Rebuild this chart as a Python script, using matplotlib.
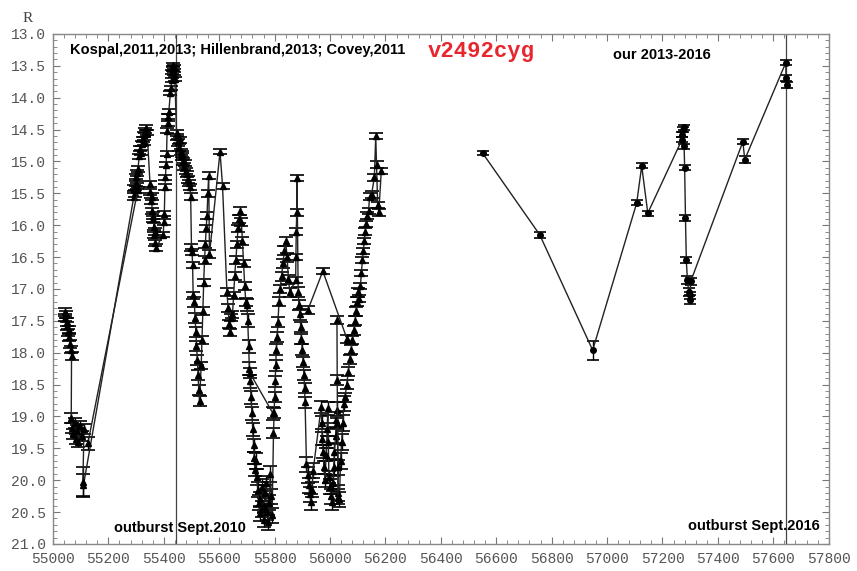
import matplotlib
matplotlib.use('Agg')
import matplotlib.pyplot as plt
from matplotlib.ticker import MultipleLocator, FormatStrFormatter

# --- Literature photometry (JD-2400000, R mag, error) ---
lit_a_x = [55043, 55045, 55047, 55049, 55052, 55054, 55057, 55059, 55062, 55064, 55067,
           55066, 55070, 55074, 55078, 55082, 55086, 55092, 55098, 55104, 55112,
           55108, 55110,
           55292, 55294, 55296, 55298, 55300, 55302, 55304, 55306,
           55312, 55315, 55318, 55321, 55324, 55327, 55330, 55333, 55336, 55340,
           55350, 55352, 55354, 55356, 55358, 55360, 55362, 55364, 55366, 55368, 55370, 55372,
           55398, 55400, 55402, 55404, 55406, 55408, 55410, 55412, 55414, 55416, 55418,
           55424, 55426, 55428, 55430, 55432, 55434, 55436, 55438, 55440,
           55446, 55449, 55452, 55455, 55458, 55461, 55464, 55467, 55470, 55473, 55476, 55479,
           55482, 55486, 55490,
           55494, 55497, 55500, 55502, 55504, 55506,
           55510, 55513, 55516, 55518, 55521, 55524, 55526, 55529,
           55535, 55538, 55541, 55544, 55547, 55550, 55553, 55556, 55559, 55562, 55565,
           55603, 55612,
           55628, 55632, 55636, 55638, 55641,
           55648, 55652, 55656, 55660, 55664, 55668, 55672, 55676, 55680, 55684, 55688, 55692, 55696,
           55700, 55703, 55706, 55709, 55712, 55715, 55718, 55721, 55724, 55727, 55729,
           55732, 55735, 55739, 55742, 55746, 55749, 55753, 55756, 55760, 55763, 55767, 55770,
           55774, 55777, 55781, 55784, 55788, 55791,
           55796, 55798, 55800, 55802, 55804, 55806, 55809, 55812,
           55816, 55820, 55825, 55830, 55835, 55840, 55845, 55850, 55855,
           55876, 55877, 55878, 55880, 55881,
           55885, 55888, 55891, 55894, 55897, 55900, 55903, 55906, 55908, 55910,
           55915, 55919, 55923, 55927, 55931, 55935, 55939,
           55968, 55970, 55972, 55975, 55978, 55982, 55986, 55990, 55992, 55994, 55996,
           56000, 56003, 56006, 56010, 56013, 56016, 56020, 56023, 56027, 56030, 56034, 56038,
           56042, 56046, 56050,
           56054, 56060, 56066, 56071, 56076, 56081, 56086, 56090, 56094, 56098, 56102,
           56106, 56110, 56113, 56117, 56120, 56124, 56127, 56131, 56135, 56139, 56143,
           56150, 56160, 56165, 56168, 56172, 56176, 56185]
lit_a_y = [17.36, 17.45, 17.40, 17.58, 17.52, 17.68, 17.75, 17.64, 17.86, 17.95, 18.05,
           19.02, 19.18, 19.28, 19.10, 19.35, 19.22, 19.40, 19.15, 19.30, 19.20,
           20.02, 20.08,
           15.55, 15.42, 15.50, 15.33, 15.25, 15.38, 15.18, 15.12,
           14.92, 14.80, 14.86, 14.72, 14.65, 14.70, 14.58, 14.52, 14.47, 14.55,
           15.35, 15.48, 15.62, 15.55, 15.78, 15.90, 15.85, 16.02, 16.15, 16.10, 16.28, 16.35,
           16.15, 15.95, 15.82, 15.40, 15.25, 15.05, 14.88, 14.52, 14.40, 14.30, 14.22,
           13.92, 13.85, 13.72, 13.60, 13.55, 13.48, 13.52, 13.62, 13.70,
           14.55, 14.62, 14.70, 14.78, 14.66, 14.85, 14.92, 14.88, 15.00, 15.08, 15.02, 15.15,
           15.20, 15.28, 15.34,
           15.40, 15.55, 16.35, 16.42, 16.62, 17.10,
           17.20, 17.45, 17.68, 17.90, 18.12, 18.35, 18.58, 18.76,
           18.20, 17.80, 17.35, 16.90, 16.55, 16.30, 16.05, 15.85, 15.50, 15.22, 16.45,
           14.85, 15.38,
           17.05, 17.30, 17.55, 17.68, 17.45,
           17.40, 17.10, 16.80, 16.55, 16.30, 16.05, 15.90, 15.78, 15.95, 16.25, 16.60, 16.95, 17.20,
           17.25, 17.50, 17.90, 18.25, 18.45, 18.70, 18.95, 19.20, 19.45, 19.65, 19.84,
           19.70, 19.95, 20.15, 20.35, 20.52, 20.30, 20.10, 20.45, 20.62, 20.40, 20.20, 20.05,
           20.50, 20.66, 20.35, 19.90, 20.25, 20.55,
           19.26, 18.95, 18.70, 18.45, 18.20, 17.95, 17.75, 17.52,
           17.20, 17.00, 16.80, 16.60, 16.40, 16.25, 16.50, 16.85, 17.05,
           16.86, 16.50, 16.10, 15.80, 15.26,
           17.05, 17.25, 17.40, 17.60, 17.78, 17.95, 18.15, 18.35, 18.55, 18.78,
           19.75, 19.92, 20.08, 20.22, 20.34, 20.15, 19.85,
           18.85, 19.10, 19.35, 19.55, 19.80, 20.00, 19.60, 19.20, 18.87, 19.40, 19.95,
           20.10, 20.25, 20.34, 20.05, 19.80, 19.55, 19.30, 19.05, 18.90, 20.20, 20.30, 19.70,
           19.40, 19.10, 18.80,
           18.70, 18.50, 18.30, 18.10, 17.95, 17.80, 17.65, 17.50, 17.35, 17.20, 17.05,
           17.15, 16.95, 16.75, 16.55, 16.40, 16.25, 16.10, 15.98, 15.85, 15.78, 15.55,
           15.52, 15.25, 14.60, 15.05, 15.68, 15.80, 15.15]
lit_a_err = [0.06, 0.06, 0.06, 0.06, 0.06, 0.06, 0.06, 0.06, 0.06, 0.06, 0.06,
             0.08, 0.08, 0.08, 0.08, 0.08, 0.08, 0.08, 0.08, 0.08, 0.08,
             0.22, 0.18,
             0.05, 0.05, 0.05, 0.05, 0.05, 0.05, 0.05, 0.05,
             0.04, 0.04, 0.04, 0.04, 0.04, 0.04, 0.04, 0.04, 0.04, 0.04,
             0.05, 0.05, 0.05, 0.05, 0.05, 0.05, 0.05, 0.05, 0.05, 0.05, 0.05, 0.05,
             0.04, 0.04, 0.04, 0.04, 0.04, 0.04, 0.04, 0.04, 0.04, 0.04, 0.04,
             0.03, 0.03, 0.03, 0.03, 0.03, 0.03, 0.03, 0.03, 0.03,
             0.05, 0.05, 0.05, 0.05, 0.05, 0.05, 0.05, 0.05, 0.05, 0.05, 0.05, 0.05,
             0.05, 0.05, 0.05,
             0.05, 0.05, 0.05, 0.05, 0.05, 0.05,
             0.08, 0.08, 0.08, 0.08, 0.08, 0.08, 0.08, 0.08,
             0.06, 0.06, 0.06, 0.06, 0.06, 0.06, 0.06, 0.06, 0.06, 0.06, 0.06,
             0.04, 0.05,
             0.06, 0.06, 0.06, 0.06, 0.06,
             0.06, 0.06, 0.06, 0.06, 0.06, 0.06, 0.06, 0.06, 0.06, 0.06, 0.06, 0.06, 0.06,
             0.10, 0.10, 0.10, 0.10, 0.10, 0.10, 0.10, 0.10, 0.10, 0.10, 0.10,
             0.12, 0.12, 0.12, 0.12, 0.12, 0.12, 0.12, 0.12, 0.12, 0.12, 0.12, 0.12,
             0.12, 0.12, 0.12, 0.12, 0.12, 0.12,
             0.08, 0.08, 0.08, 0.08, 0.08, 0.08, 0.08, 0.08,
             0.07, 0.07, 0.07, 0.07, 0.07, 0.07, 0.07, 0.07, 0.07,
             0.05, 0.05, 0.05, 0.05, 0.05,
             0.08, 0.08, 0.08, 0.08, 0.08, 0.08, 0.08, 0.08, 0.08, 0.08,
             0.12, 0.12, 0.12, 0.12, 0.12, 0.12, 0.12,
             0.10, 0.10, 0.10, 0.10, 0.10, 0.10, 0.10, 0.10, 0.10, 0.10, 0.10,
             0.12, 0.12, 0.12, 0.12, 0.12, 0.12, 0.12, 0.12, 0.12, 0.12, 0.12, 0.12,
             0.12, 0.12, 0.12,
             0.07, 0.07, 0.07, 0.07, 0.07, 0.07, 0.07, 0.07, 0.07, 0.07, 0.07,
             0.05, 0.05, 0.05, 0.05, 0.05, 0.05, 0.05, 0.05, 0.05, 0.05, 0.05,
             0.05, 0.05, 0.05, 0.05, 0.05, 0.05, 0.05]

# sparser data sets (long connecting segments)
lit_b_x = [55126, 55306]
lit_b_y = [19.42, 15.45]
lit_b_err = [0.10, 0.05]

lit_c_x = [55711, 55794]
lit_c_y = [18.32, 18.95]
lit_c_err = [0.08, 0.10]

lit_d_x = [55920, 55974, 56061]
lit_d_y = [17.33, 16.72, 17.78]
lit_d_err = [0.06, 0.05, 0.06]

lit_e_x = [56025, 56026, 56027, 56028, 56029]
lit_e_y = [17.49, 18.43, 19.10, 19.80, 20.26]
lit_e_err = [0.06, 0.08, 0.10, 0.12, 0.12]

# --- Our photometry 2013-2016 ---
our_x = [56551, 56757, 56948, 57107, 57125, 57147,
         57270, 57272, 57274, 57276, 57278, 57280, 57283, 57286, 57290, 57295, 57298, 57300, 57302,
         57490, 57497, 57645, 57646, 57648]
our_y = [14.87, 16.15, 17.96, 15.65, 15.07, 15.81,
         14.66, 14.58, 14.50, 14.46, 14.76, 15.10, 15.89, 16.55, 16.86, 17.05, 17.17, 17.10, 16.88,
         14.69, 14.97, 13.45, 13.69, 13.80]
our_err = [0.03, 0.05, 0.15, 0.04, 0.04, 0.04,
           0.04, 0.04, 0.04, 0.04, 0.04, 0.04, 0.05, 0.05, 0.06, 0.06, 0.07, 0.06, 0.06,
           0.04, 0.06, 0.04, 0.04, 0.04]

outburst_dates = [55444, 57645]

# --- Plot ---
fig = plt.figure(figsize=(8.57, 5.71), dpi=100)
ax = fig.add_axes([0.0618, 0.0473, 0.9052, 0.8932])

for xs, ys, es in [(lit_a_x, lit_a_y, lit_a_err),
                   (lit_b_x, lit_b_y, lit_b_err),
                   (lit_c_x, lit_c_y, lit_c_err),
                   (lit_d_x, lit_d_y, lit_d_err),
                   (lit_e_x, lit_e_y, lit_e_err)]:
    ax.errorbar(xs, ys, yerr=es, fmt='-^', color='#222222', mfc='black', mec='black',
                ms=4, lw=1.0, ecolor='black', elinewidth=1.0, capsize=5, capthick=1.2)

ax.errorbar(our_x, our_y, yerr=our_err, fmt='-o', color='#222222', mfc='black', mec='black',
            ms=4, lw=1.0, ecolor='black', elinewidth=1.0, capsize=4, capthick=1.2)

for d in outburst_dates:
    ax.axvline(d, color='#444444', lw=0.9, zorder=0)

# --- Axes ---
ax.set_xlim(55000, 57800)
ax.set_ylim(21.0, 13.0)
ax.xaxis.set_major_locator(MultipleLocator(200))
ax.xaxis.set_minor_locator(MultipleLocator(40))
ax.yaxis.set_major_locator(MultipleLocator(0.5))
ax.yaxis.set_minor_locator(MultipleLocator(0.1))
ax.yaxis.set_major_formatter(FormatStrFormatter('%.1f'))
ax.tick_params(which='both', direction='in', top=True, right=True, color='#777777')
ax.tick_params(which='major', length=5, width=0.8, labelsize=10.5, labelcolor='#555555')
ax.tick_params(which='minor', length=3, width=0.6)
ax.tick_params(axis='x', pad=6)
ax.tick_params(axis='y', pad=5)
for lab in ax.get_xticklabels() + ax.get_yticklabels():
    lab.set_fontfamily('Liberation Mono')
for s in ax.spines.values():
    s.set_color('#888888')
    s.set_linewidth(1.0)

# --- Labels ---
ax.text(0.022, 0.969, 'Kospal,2011,2013; Hillenbrand,2013; Covey,2011', transform=ax.transAxes,
        fontsize=10.5, fontweight='bold', family='Liberation Sans', va='center', ha='left')
ax.text(0.552, 0.966, 'v2492cyg', transform=ax.transAxes, fontsize=16, fontweight='bold',
        family='Liberation Mono', color='#e8262e', va='center', ha='center')
ax.text(0.722, 0.959, 'our 2013-2016', transform=ax.transAxes,
        fontsize=10.5, fontweight='bold', family='Liberation Sans', va='center', ha='left')
ax.text(0.0786, 0.031, 'outburst Sept.2010', transform=ax.transAxes,
        fontsize=10.5, fontweight='bold', family='Liberation Sans', va='center', ha='left')
ax.text(0.818, 0.035, 'outburst Sept.2016', transform=ax.transAxes,
        fontsize=10.5, fontweight='bold', family='Liberation Sans', va='center', ha='left')
fig.text(27.5 / 857, 1 - 19 / 571, 'R', fontsize=11, family='Liberation Serif',
         color='#444444', ha='center', va='center')

fig.savefig('out.png', dpi=100)
